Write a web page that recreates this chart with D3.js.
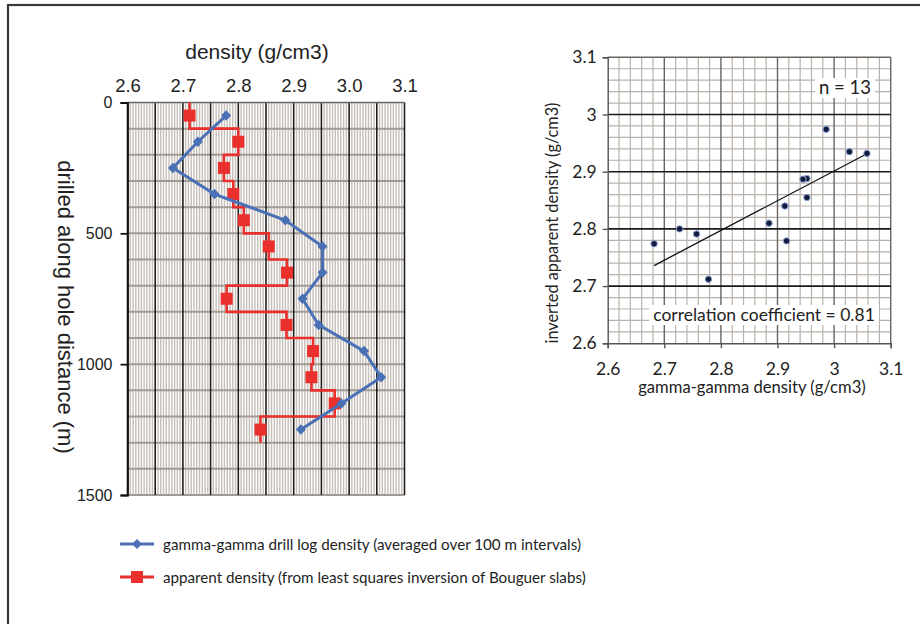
<!DOCTYPE html>
<html><head><meta charset="utf-8">
<script src="https://cdn.jsdelivr.net/npm/d3@7"></script>
<style>
html,body{margin:0;padding:0;background:#fff;}
svg{display:block;}
</style></head>
<body>
<svg id="chart" width="920" height="624"></svg>
<script>
// ---- data ----
const depthMid = [50,150,250,350,450,550,650,750,850,950,1050,1150,1250];
const intervalHalf = 50;
const gammaDensity = [2.778,2.727,2.682,2.757,2.885,2.952,2.952,2.916,2.945,3.027,3.058,2.986,2.913];
const apparentDensity = [2.712,2.800,2.774,2.791,2.810,2.855,2.888,2.779,2.887,2.935,2.932,2.974,2.840];
const densityTicks = [2.6,2.7,2.8,2.9,3.0,3.1];
const depthTicks = [0,500,1000,1500];
const scatterTicks = [2.6,2.7,2.8,2.9,3.0,3.1];
const legendLabels = ["gamma-gamma drill log density (averaged over 100 m intervals)",
                      "apparent density (from least squares inversion of Bouguer slabs)"];
const nLabel = "n = 13";
const corrLabel = "correlation coefficient  = 0.81";

const svg = d3.select("#chart");
const BLUE = "#4a70b6", RED = "#e9302c";
const ARIAL = "'Liberation Sans', Arial, sans-serif";
const CAL = "Lato, 'Open Sans', sans-serif";

// outer frame
svg.append("rect").attr("x",8).attr("y",5).attr("width",930).attr("height",640)
  .attr("fill","#fff").attr("stroke","#3a3a3a").attr("stroke-width",2.2);

// ================= LEFT CHART =================
const x1 = d3.scaleLinear().domain([2.6,3.1]).range([127.5,404.5]);
const y1 = d3.scaleLinear().domain([0,1500]).range([102.5,495]);
const g1 = svg.append("g");

// minor vertical grid every 0.005
const minorV = d3.range(0,101).map(i=>2.6+i*0.005);
g1.selectAll(".mv").data(minorV.filter((d,i)=>i%10!==0)).join("line")
  .attr("x1",d=>x1(d)).attr("x2",d=>x1(d)).attr("y1",y1(0)).attr("y2",y1(1500))
  .attr("stroke","#c6beb8").attr("stroke-width",1.4);
// horizontal grid every 100 m
g1.selectAll(".hg").data(d3.range(100,1501,100)).join("line")
  .attr("x1",x1(2.6)).attr("x2",x1(3.1)).attr("y1",d=>y1(d)).attr("y2",d=>y1(d))
  .attr("stroke","#a39a94").attr("stroke-width",2);
// major vertical every 0.05
g1.selectAll(".Mv").data(minorV.filter((d,i)=>i%10===0)).join("line")
  .attr("x1",d=>x1(d)).attr("x2",d=>x1(d)).attr("y1",y1(0)).attr("y2",y1(1500))
  .attr("stroke","#1e1e1e").attr("stroke-width",1.6);
// top edge
g1.append("line").attr("x1",x1(2.6)).attr("x2",x1(3.1)).attr("y1",y1(0)).attr("y2",y1(0))
  .attr("stroke","#6e6660").attr("stroke-width",1.5);

// left axis
const ax1 = g1.append("g").attr("transform",`translate(${x1(2.6)},0)`)
  .call(d3.axisLeft(y1).tickValues(depthTicks).tickSize(7).tickPadding(8).tickFormat(d3.format("d")));
ax1.select(".domain").attr("stroke","#111").attr("stroke-width",1.8);
ax1.selectAll(".tick line").attr("stroke","#111").attr("stroke-width",1.8);
ax1.selectAll("text").attr("font-family",ARIAL).attr("font-size",16).attr("fill","#222");

// top axis labels
const ax1t = g1.append("g").attr("transform",`translate(0,${y1(0)})`)
  .call(d3.axisTop(x1).tickValues(densityTicks).tickSize(0).tickPadding(11).tickFormat(d3.format(".1f")));
ax1t.select(".domain").remove();
ax1t.selectAll("text").attr("font-family",ARIAL).attr("font-size",18.5).attr("fill","#222");

// titles
svg.append("text").attr("x",257).attr("y",59).attr("text-anchor","middle")
  .attr("font-family",ARIAL).attr("font-size",21).attr("fill","#222").text("density (g/cm3)");
svg.append("text").attr("transform","translate(58,307) rotate(90)").attr("text-anchor","middle")
  .attr("font-family",ARIAL).attr("font-size",22).attr("fill","#222").text("drilled along hole distance (m)");

// red step line
const stepPts = [];
depthMid.forEach((d,i)=>{ stepPts.push([apparentDensity[i], d-intervalHalf]); stepPts.push([apparentDensity[i], d+intervalHalf]); });
g1.append("path").datum(stepPts)
  .attr("d", d3.line().x(d=>x1(d[0])).y(d=>y1(d[1])))
  .attr("fill","none").attr("stroke",RED).attr("stroke-width",2.6);
g1.selectAll(".rsq").data(depthMid).join("rect")
  .attr("x",(d,i)=>x1(apparentDensity[i])-6).attr("y",d=>y1(d)-6)
  .attr("width",12).attr("height",12).attr("fill",RED);

// blue line
g1.append("path").datum(depthMid)
  .attr("d", d3.line().x((d,i)=>x1(gammaDensity[i])).y(d=>y1(d)))
  .attr("fill","none").attr("stroke",BLUE).attr("stroke-width",3);
g1.selectAll(".bd").data(depthMid).join("path")
  .attr("d", d3.symbol(d3.symbolDiamond2, 64))
  .attr("transform",(d,i)=>`translate(${x1(gammaDensity[i])},${y1(d)}) scale(1,1.05)`)
  .attr("fill",BLUE);

// legend
const leg = svg.append("g");
const legY = [544,577];
leg.append("line").attr("x1",120).attr("x2",154).attr("y1",legY[0]).attr("y2",legY[0]).attr("stroke",BLUE).attr("stroke-width",3);
leg.append("path").attr("d",d3.symbol(d3.symbolDiamond2,64)).attr("transform",`translate(137,${legY[0]})`).attr("fill",BLUE);
leg.append("line").attr("x1",120).attr("x2",154).attr("y1",legY[1]).attr("y2",legY[1]).attr("stroke",RED).attr("stroke-width",3);
leg.append("rect").attr("x",131).attr("y",legY[1]-6).attr("width",12).attr("height",12).attr("fill",RED);
leg.selectAll(".lt").data(legendLabels).join("text")
  .attr("x",163).attr("y",(d,i)=>legY[i]+5.5)
  .attr("font-family",CAL).attr("font-size",15.2).attr("fill","#1e1e1e").text(d=>d);

// ================= SCATTER =================
const x2 = d3.scaleLinear().domain([2.6,3.1]).range([607.7,890.7]);
const y2 = d3.scaleLinear().domain([2.6,3.1]).range([343.3,57.3]);
const g2 = svg.append("g");
const minor2 = d3.range(0,26).map(i=>2.6+i*0.02);
g2.selectAll(".mx").data(minor2.filter((d,i)=>i%5!==0)).join("line")
  .attr("x1",d=>x2(d)).attr("x2",d=>x2(d)).attr("y1",y2(2.6)).attr("y2",y2(3.1))
  .attr("stroke","#b9b1ab").attr("stroke-width",1.2);
g2.selectAll(".my").data(minor2.filter((d,i)=>i%5!==0)).join("line")
  .attr("y1",d=>y2(d)).attr("y2",d=>y2(d)).attr("x1",x2(2.6)).attr("x2",x2(3.1))
  .attr("stroke","#b9b1ab").attr("stroke-width",1.2);
g2.selectAll(".Mx").data(scatterTicks.slice(1)).join("line")
  .attr("x1",d=>x2(d)).attr("x2",d=>x2(d)).attr("y1",y2(2.6)).attr("y2",y2(3.1))
  .attr("stroke","#6a6460").attr("stroke-width",1.4);
g2.selectAll(".My").data(scatterTicks.slice(1,5)).join("line")
  .attr("y1",d=>y2(d)).attr("y2",d=>y2(d)).attr("x1",x2(2.6)).attr("x2",x2(3.1))
  .attr("stroke","#1a1a1a").attr("stroke-width",1.6);
g2.append("line").attr("y1",y2(3.1)).attr("y2",y2(3.1)).attr("x1",x2(2.6)).attr("x2",x2(3.1))
  .attr("stroke","#6a6460").attr("stroke-width",1.4);

const fmt2 = d=> d===3 ? "3" : d3.format(".1f")(d);
const ax2b = g2.append("g").attr("transform",`translate(0,${y2(2.6)})`)
  .call(d3.axisBottom(x2).tickValues(scatterTicks).tickSize(5).tickPadding(14).tickFormat(fmt2));
const ax2l = g2.append("g").attr("transform",`translate(${x2(2.6)},0)`)
  .call(d3.axisLeft(y2).tickValues(scatterTicks).tickSize(5).tickPadding(6).tickFormat(fmt2));
[ax2b,ax2l].forEach(a=>{
  a.select(".domain").attr("stroke","#555").attr("stroke-width",1.4);
  a.selectAll(".tick line").attr("stroke","#555").attr("stroke-width",1.4);
  a.selectAll("text").attr("font-family",CAL).attr("font-size",17.5).attr("fill","#222");
});

// regression line (least squares from the data)
const mx = d3.mean(gammaDensity), my = d3.mean(apparentDensity);
const sxy = d3.sum(gammaDensity.map((v,i)=>(v-mx)*(apparentDensity[i]-my)));
const sxx = d3.sum(gammaDensity.map(v=>(v-mx)*(v-mx)));
const slope = sxy/sxx, icpt = my - slope*mx;
const ext = d3.extent(gammaDensity);
g2.append("line").attr("x1",x2(ext[0])).attr("y1",y2(icpt+slope*ext[0]))
  .attr("x2",x2(ext[1])).attr("y2",y2(icpt+slope*ext[1]))
  .attr("stroke","#111").attr("stroke-width",1.3);

g2.selectAll(".pt").data(gammaDensity).join("circle")
  .attr("cx",d=>x2(d)).attr("cy",(d,i)=>y2(apparentDensity[i])).attr("r",3.2)
  .attr("fill","#141c3c").attr("stroke","#8aa4d8").attr("stroke-width",1);

// boxed labels
function boxLabel(txt, cx, cy, size){
  const t = g2.append("text").attr("x",cx).attr("y",cy+size*0.35).attr("text-anchor","middle")
    .attr("font-family",CAL).attr("font-size",size).attr("fill","#222").text(txt);
  const bb = t.node().getBBox();
  g2.insert("rect", () => t.node()).attr("x",bb.x-4).attr("y",cy-10).attr("width",bb.width+8).attr("height",20).attr("fill","#fff");
}
boxLabel(nLabel, 845, 88, 18.5);
boxLabel(corrLabel, 764, 315, 17.5);

svg.append("text").attr("x",752).attr("y",393).attr("text-anchor","middle")
  .attr("font-family",CAL).attr("font-size",16.6).attr("fill","#222").text("gamma-gamma density (g/cm3)");
svg.append("text").attr("transform","translate(558,223) rotate(-90)").attr("text-anchor","middle")
  .attr("font-family",CAL).attr("font-size",16.3).attr("fill","#222").text("inverted apparent density (g/cm3)");
</script>
</body></html>
